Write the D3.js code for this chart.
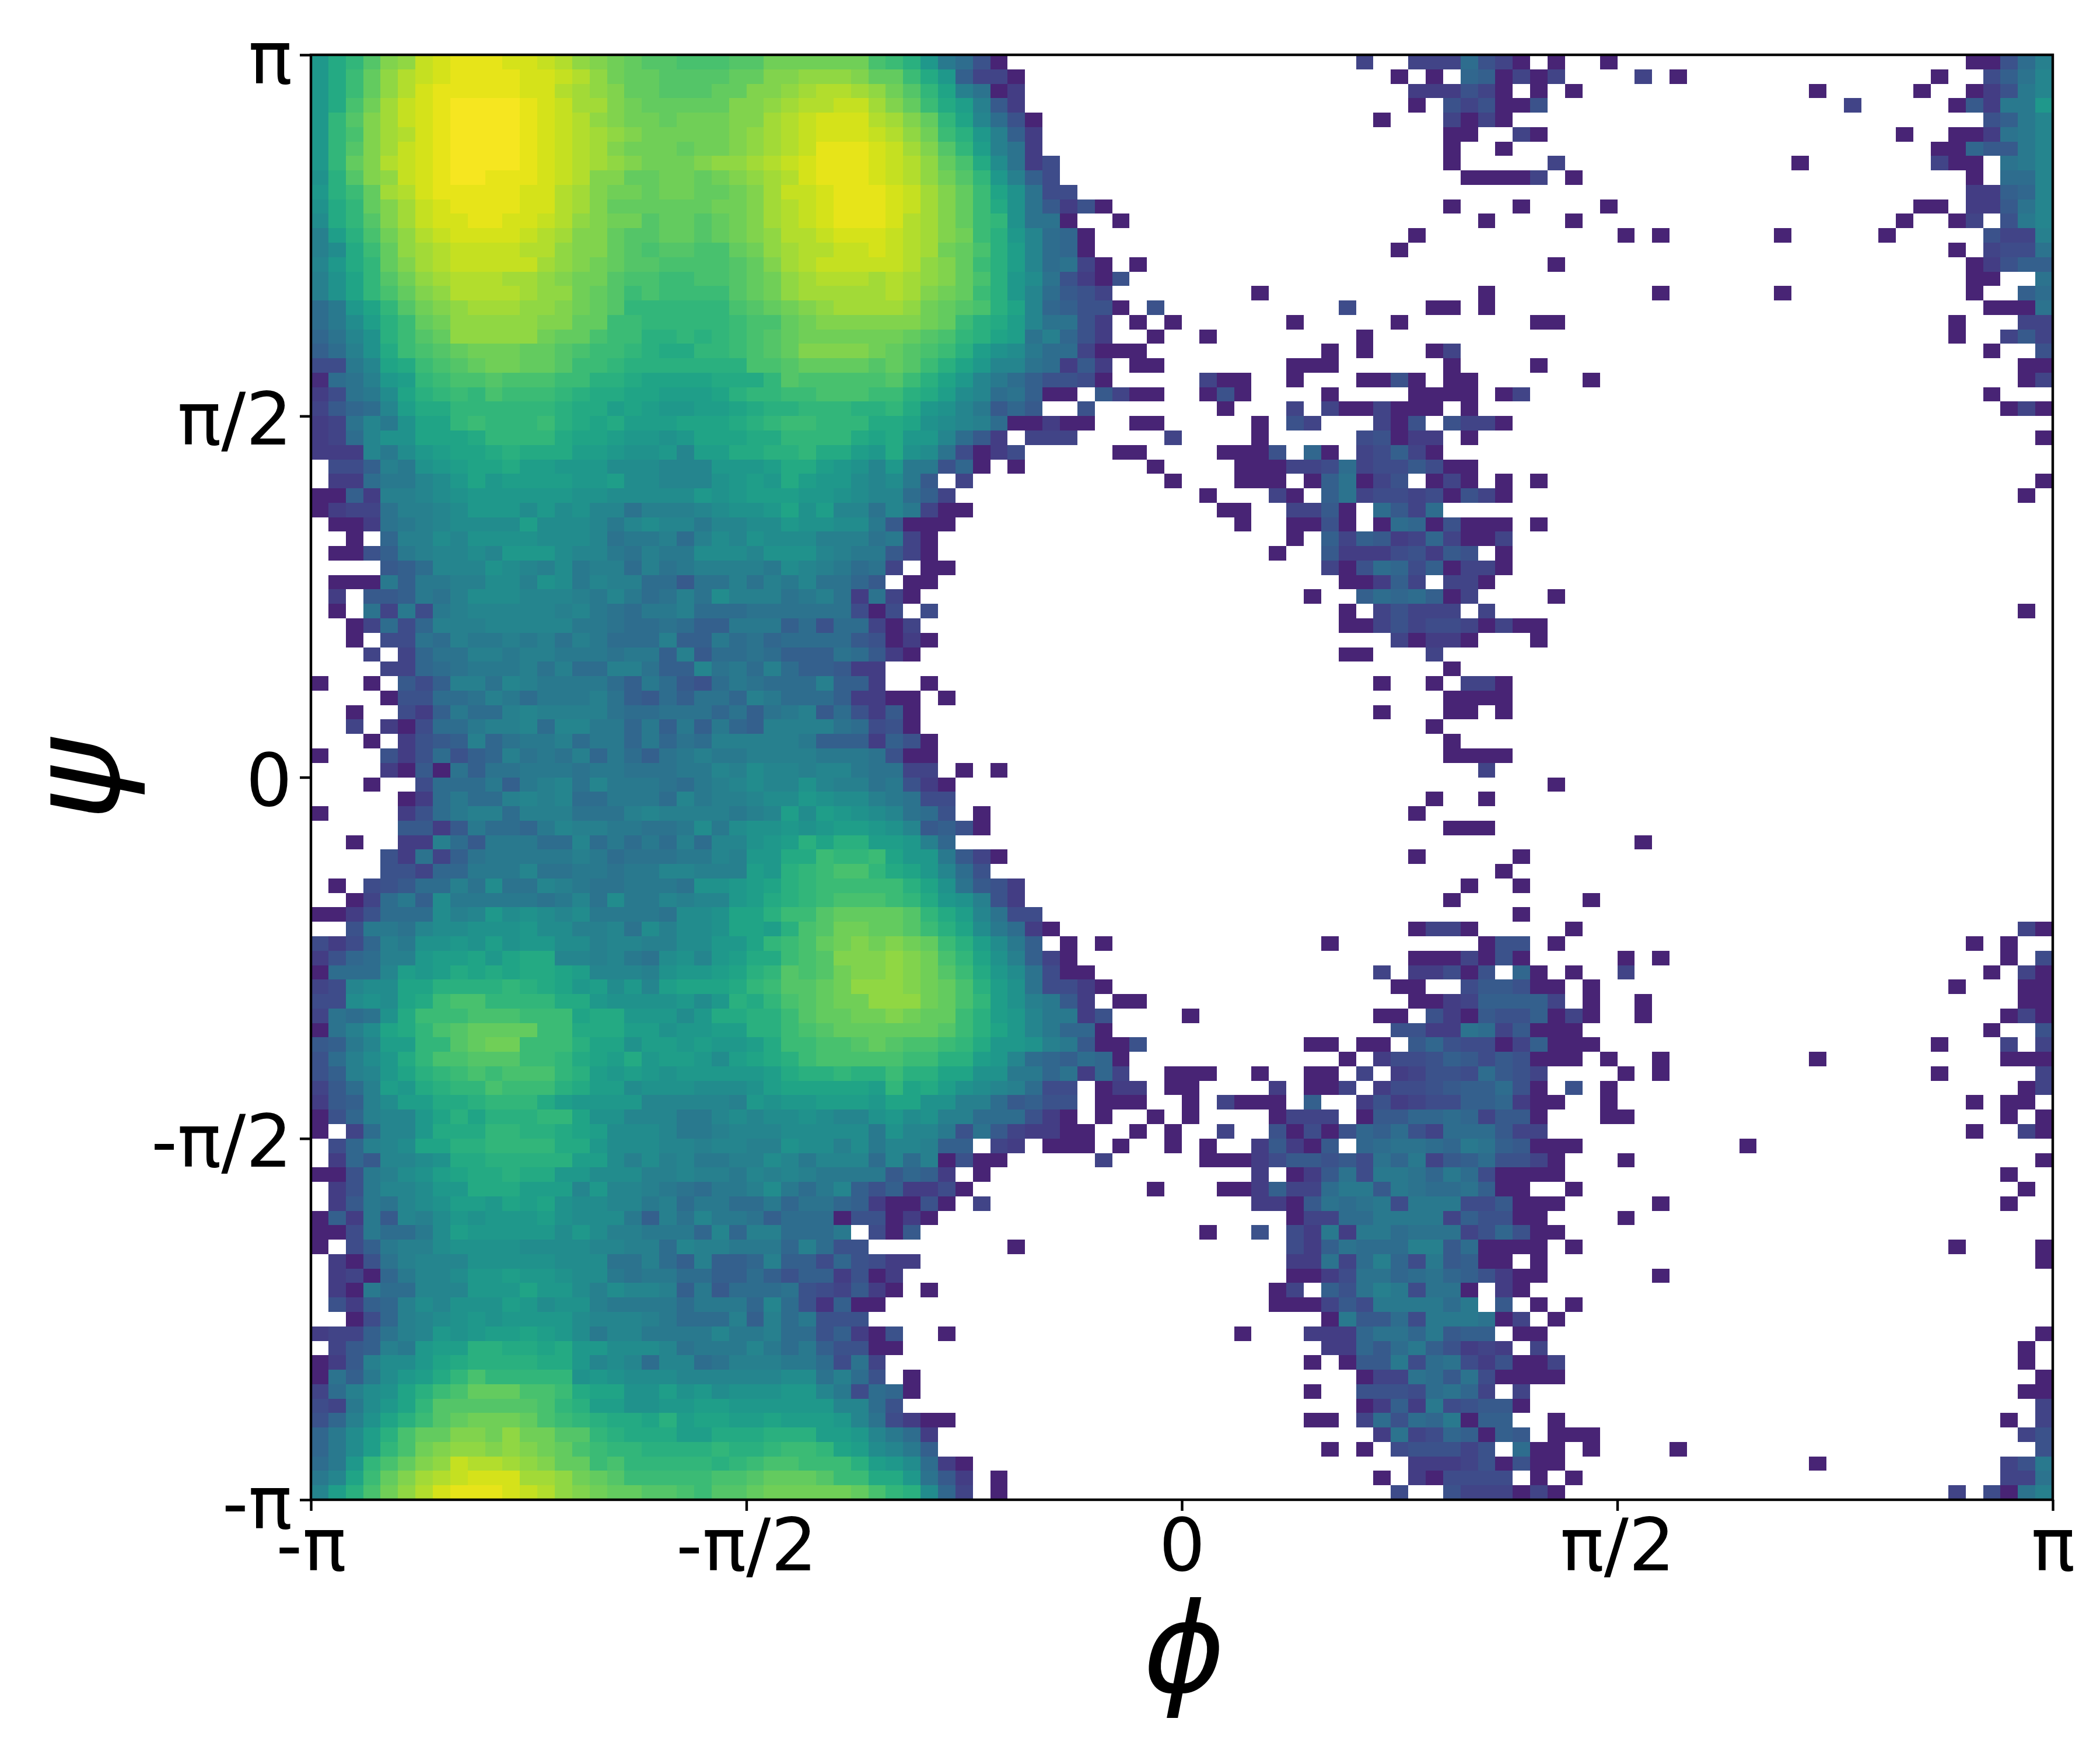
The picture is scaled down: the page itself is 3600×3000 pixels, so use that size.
<!DOCTYPE html>
<html>
<head>
<meta charset="utf-8">
<script src="https://cdnjs.cloudflare.com/ajax/libs/d3/7.8.5/d3.min.js"></script>
<style>
    body { margin: 0; background: #fff; }
    text { font-family: "DejaVu Sans", sans-serif; }
</style>
</head>
<body>
<svg id="svg-element" width="3600" height="3000"></svg>
<script>
// histogram levels, one string per psi row (top row = +pi), one char per phi bin
// '.' = empty bin, otherwise base 36 level. <n> = n empty bins
const phiBinsWest = [
"hkmpstwxyyyxxwvtsrqppooopprrrrrro",
"hknqtvwxyyyyxxwvtrqqppppqqsstttsq",
"hknqtvxyyyyyxxvutsqqpppqqsstuvvut",
"hkoruwxyzzzzyxwuusrqqqqqsstuvvwwu",
"hmpsuwxyzzzzyxwvtsrrqrrrssuvwxxxv",
"hmosuvxyzzzzyxwvutsrrrrrstuvwxxxw",
"hmpsuwxyzzzzyxwvusrrrqrrstuvwyyyx",
"hmqsvwxyzzzzyxwvutsrrrsttuvwxyyyx",
"glpstwxyzzyyyxwvssqqrrqrstuvxyyyx",
"hlnquvxyyyyyxxvusrrqrrqqrsuwwxyyy",
"gkmqsuwxyyyyxxvusqqqqqqrrsuvwxyyy",
"fkmpsuwxxyyxxwvtsrrpqqpqrsuvwxyyy",
"dilortvwxxxxwvussqppqqpqrstvvwxxx",
"dfknqtuvwwwwvvtssqpoppooqrtuvvwwx",
"ehkmqsuvwwwwwutsrqppoooopqsuvwwww",
"dgjmprtuvvvuutsrrpoonnoopqrtuvvvu",
"dgjmoqstvvvvuttrqpnonnnnpqrtuuuuu",
"achjmprstuuuttsrqpmmmmmmopqrstuuu",
"acfilnqrtttttssqqnnmmmmmnooqrssss",
"9beglnpqtttttrqqonnllmlmnopqrrrrr",
"8adgknopqrrrqqponnmlkkmmnopqssssr",
"55cejknopqrrqqpnnmllllllloopqqqqp",
"1abdhimnoopooonnllkjjjjkkkmpooooo",
"35bcfjlmnmonnnmlkkjjiiijlmmnnooon",
"479aeikkmmmmmmlkkijihhiijkllmmmll",
"34becgjjmnmmmnlkjkiiijjjklmnnmmmk",
"34aeggjjjkmmmmkjjihhghjjjkkmmmmkj",
"333ecfhijjklkkkiihggheiikkllmkkih",
".558dcghijjkiihhhfffeeehhhikkihge",
".33accefhjhiiiihhiffeeeghihkihhfe",
"0083ddefghhhhhhggfffffhghiiihhgfe",
"0344bddefhhhfhfgeebdddefgghjgieeb",
".003bcdeffffifffecefeeceeffhggffc",
"..0.9ddfeggggfffebccdadfegfffdddb",
".0068cdeefehhhfeecbdccfffegggedcc",
"....78aeeegfedfcddadbcddddcfedcab",
".000c8ccddffdgfceddaa7bbdbdcebb97",
".3.778cbdfffeeedcecabdbfdddbcdb3b",
".0.b4c5cdeeeeedecbaccdaaabbbbbb50",
"..04a59dddeeeeeccbaaba88ccc8a6aa4",
"..0.55badccdcdbdcaaad88cab9aaaa76",
"...4.49bbddcddcccbcc8d7aaba888ba7",
"....449abcccdbdaaddb88ebcada88733",
"0..0.758ddbedcccca8ca76acbaaad883",
"....066aabdcacccdb87a8bb9dcaaa833",
"..0..538caadeddddbaabbb9b8bcd7a63",
"..4.305aacddeaeecc9c8c8c98ddddba5",
"...0.3678d9bccdacc9c9badddddc8883",
"0...636a689dbcbd9ca8bcdccddddcccb",
"....3070b8bbcccbccbbbccedfeedeecb",
"...0..5aaac8cdebecccbacdefeegeddb",
".....03acaadedeaacccaecddeffhgffd",
"0....36acddadddbbbdeddddcdeifihgf",
".....7737caa9ceddccbbcfcfgghghiih",
"..0..33da7cccaaeacacadaeeghiljlli",
"....63b48bcccccdcabbbccedhhkknmmn",
"....66499cccebbccbcceedddihlmnoom",
".0.567aadbfbbedcbbcccbgghijlmnnnn",
"..04ac8fcccccbcebfccedeehiklmnooo",
"0036aaafdehfgfefccccbffgjjlnnpqqq",
"..6ccbeffggghffddebfdffgjjiloprrq",
"5359dcgghgighhffdeeddffhhjmnoqrsr",
"369addhiijhjkkeedecbfgehikknopsss",
"0aaaeihikjkjkkjieeedghhijlmpoprss",
"45effjjllllmlkjhifheijjjkmnppqrtt",
"55fgfjknoommmmkkhgggghfhlkmopqrrt",
"4babgknnnooonnnjkkhhhfhkkllnpqqrr",
"0bdfjkmopqqqqnnkkkiighhiillnopqqq",
"78ceiimmpqrrnnnljjgiihihhiknnoopq",
"6adfhkmoopppnnmkjikhiihfijklnoooo",
"68dehjlmnonooomlihihghhhhhikllmll",
"47adihklmmonnnlkiifgggfffgijjjjji",
"378dfiikklmmmkihhhheeeeedhghhiiih",
"069deehjljlllmmjggeeeccefeffgfeeg",
"0.4aeehkkkmmllkjifffeccdeeefffffc",
".59defjjllmmmmkkhfffeedeeddgffdfc",
".397eefgkkllllliifdfdeccddfeceeea",
"006cdfgijkklkkhhfffddeddcededcccc",
".36ceefhhkkkiiieheedcbaccdfcace86",
".37cbefgiihjijgffeecdaccaac9bb983",
"083c7edfhghhhigfffc8dbeccb8aaa066",
"005caacfihhhhhfhfddccc9e9ddaaac.5",
"0.58cddfggggffffeeddaeddccc9da66.",
".306bdeeegggggfffbbda8d889d885965",
".3409ceefhhihhgffcbccaa88a8688360",
".30caaeeehhhjhhfdfeed8c7aaab65473",
".6389dfegggihfggdccccaccc9ea62800",
"..059defghghhhhfeeedcaaad8dac666.",
"3448bdehghiijihfceecccceccdaa6830",
".478dchiillkkjkhhfffebcccecac8660",
"037dffhjkllllkkhefeaeeabdddcca5b4",
"0b8cfhikmommmmmghgfffeeeeeeffbda6",
"4adfgjlnoqqqoonkjjggighfggghhec5a",
"54cfhjmppppppomliigghhiihhhhhheea",
"69dgjlnpqrrrqonmlkkjlijjiijiiiheb",
"9cfiloqqssrtrrppmlkkkiikkkllliihe",
"9cfimorsttstsrqonmmllllmllmnnmjif",
"achmoqstwvvutsqqnommmmmlmnoonnnli",
"cejnqsuvwxxxuutrqpnnnnnoopqqqpnnk",
"eilortvxyyyxwvtsrqqpponppqrrrrrqo"
];

const phiBinsMid = [
"nlhca60<20>4..444","qnkh8440<21>0.0.","rpmjdb03<22>333","sqnkid73<22>0.6","usqmjea60<19>0...4",
"vtrnlhd83<23>0","wuspmidb3<23>0","wvtqokfb35<22>0","wvtrpmhd85<23>","xwusqnjgb55<22>",
"xwusqnkgb7360<19>0","xvusqnmgbb0..0<19>","wvusrnlhea90<18>0..","wvurqoliea90<17>0...","wvtsqnlieab40.0<18>",
"vutsqolhfb6306<19>","vusrqnlhea764<8>0<11>","utrqpolje98660.6<10>5<4>00","ssrqnlkiebb63.0.0<6>0<5>0...","rqpomljibd963..0..0<8>0<5>",
"qponligfcaa4000<10>0.0...04","qpnljheeba373.00<7>000<6>0","pnljheca86650<5>400..0...0060.0","nlkifeab800.7400..060....0....000","mkhgec797..6<7>0...4.4004000.",
"kjgfeda00300..00<5>0.64...406.6","khhea73.444<5>4....0<5>56033.","kgfb5035<5>00....0006.90.45840.","hcc690.0<7>0....000445a455750","fc7.4<11>0...000.08b046.04",
"ea84<14>0...40.8b455450","ec400<14>00..4470.a74a.","7000<16>0..0060.0a906","c40<20>0.84873494","740<19>0..73335637",
"4.00<21>406a9580",".00<23>00384.4","40<22>0..8a9a80","5.5<23>0.46444","04<24>0046455",
"030<26>4033","30<24>00...4.","<32>0","..0<25>0..0.","00.0<28>0",
"70<26>0...0","60<29>0.","860<29>0","600<29>0","b44.0.0<26>",
"c630<29>","cb55<27>0.","eba6.0<24>0..","ge7860<26>0","ihd9<29>",
"jhhc740<23>0..","kjhea6<27>","nljgb763<25>","nmkhgd63<24>0","qpmkieb55<24>",
"qpnljfca30<20>044","srqnlifc8.0.0<12>0<7>","tsromjgd840<19>000","tsrpnkhfb500<16>4.335","tsrqoligb5530<16>00..",
"ttrqomigdc73.00<15>003","srqqnlihecc36....0<10>00.63","qqqpnljhec990<16>6633","poonmkhhgdc7006<9>00.00.796","onnllihea98a90<12>0.35568",
"nlljjggcc9b394..000..0..00.4.3466","mjkigfeda55.033.00....3.004.35567","jjggdda7866.000..0.4000.8..363455","hfgddaaa630.0..0.0....0444.07799a","geec6b743300..0.0..4..6050698a64a",
"eed88.43.000.0..0.0..37307.9abba9","ead0600<5>4<5>0003577675b9c47","7983.0<15>3.037b5ccb9c","83350<10>0...003844acc7cbaa","0060.4<15>3307babc5ccc",
"030<20>044aacccc4","07<16>0..6.53c3ccabbb","<7>0<15>538baaadd7","33<21>33b4ad95c7","3<22>0035bb9ab9",
"0.0<19>04.86bdc5bb","<22>000475cccca","<25>0c77a5cc","6..0<16>0...3339bb9c7","0<24>3397ac86",
"<24>0.077c5ab",".0<25>044ba7","90<22>0..6665ab","6<26>0383c5","5300<20>00.4a6a9c",
"ca3<25>3b459","ec8<22>0.0.5666","hfa30<25>333","khb73.0<21>0.305","mlf94.0<22>5..6"
];

const phiBinsEast = [
"a640.0..0<20>006ad","980404....4.0<14>0..58be","640.0.0<13>0<5>0..036ce","46006<17>4<5>073cch","040<27>68ce",
"0..40<20>0..003bce","..0<24>00977ce","<5>4<13>0<7>400.bce","00004.0<22>0.aae","<29>3389e",
"...0....0<17>00.337be",".0....0<18>0..04.6ce","<9>0.0<6>0<5>0<5>644d","<28>0.455b","<5>0<23>03688",
"<29>00..b",".0<9>0<6>0<10>0..8a",".0<28>000b","....00<22>0...44","<28>0..474",
"<30>0..6","....0<27>00","0<6>0<24>04","0.04<26>0...","0<30>040",
"440<31>","0<32>0","<34>","0<33>","0.0.0<28>0",
"640<29>0.","<34>","000.0<29>","004<31>","6.0<31>",
"440<31>","40<32>","4....0<28>",".4<30>0.","40400<29>",
"0...0<29>","<34>","<34>","440<31>","000<31>",
"0.0<31>","<34>","<34>","000<31>",".4<32>",
"<5>0<28>",".0<32>","<34>","00<32>","<10>0<23>",
"...0<30>","..0<31>","0..0<30>","<7>0<26>","...0<30>",
"0<5>0<25>40",".066.0<23>0.0..","4060<5>0.0<19>0.5","06.90.0..4<20>0.40","577600.0<20>0...00",
"488884.0..0<21>00","07668040..0<20>040","ba47000<23>0..6","55048000<19>0...4.4","7576000.0..0<8>0<10>000",
"5a764....0.0<15>0<5>4","88a60.6.0<23>04","889300..0<20>0.00.","94770...00<21>0.0","aa744<24>0..40",
"cb87000<9>0<17>","8a6640...0<23>0","a50000<25>0..","b800..0<25>0.","557000<5>0<19>0..",
"86600....0<24>","469600<28>","a0000.0<21>0....0","800.0<28>0","86300<6>0<22>",
"0.30<30>","c.7.0.0<27>","cb04.0<28>","88.00<28>0","343.4<27>0.",
"536004<26>0.","b50000<27>0","94.4<28>00","6770<29>4","088..0<25>0.4",
"8087.000<24>46","46.a00.0....0<20>6","460600<14>0<10>46c","555.0.0<24>44b","444040<22>4.50bd"
];

const tickValues = [-Math.PI, -Math.PI / 2, 0, Math.PI / 2, Math.PI];
const tickLabels = ["-π", "-π/2", "0", "π/2", "π"];
const xTitle = "ϕ";
const yTitle = "ψ";

const margin = { left: 533, right: 3519, top: 94, bottom: 2571 };
const binCount = 100;

const x = d3.scaleLinear().domain([-Math.PI, Math.PI]).range([margin.left, margin.right]);
const y = d3.scaleLinear().domain([-Math.PI, Math.PI]).range([margin.bottom, margin.top]);
const color = d3.scaleSequential(d3.interpolateViridis).domain([-4, 35.5]);
const binEdge = i => -Math.PI + i * 2 * Math.PI / binCount;

function expand(str, size) {
    const full = str.replace(/<(\d+)>/g, (m, n) => ".".repeat(+n));
    return full.padEnd(size, ".").slice(0, size);
}

const cells = [];
phiBinsWest.forEach((row, r) => {
    const line = expand(row, 33) + expand(phiBinsMid[r], 33) + expand(phiBinsEast[r], 34);
    for (let c = 0; c < binCount; c++) {
        if (line[c] === ".") continue;
        cells.push({ col: c, row: r, level: parseInt(line[c], 36) });
    }
});

const svg = d3.select("#svg-element");

svg.append("g").selectAll("rect")
    .data(cells)
    .enter()
    .append("rect")
    .attr("x", d => x(binEdge(d.col)))
    .attr("y", d => y(binEdge(binCount - d.row)))
    .attr("width", d => x(binEdge(d.col + 1)) - x(binEdge(d.col)))
    .attr("height", d => y(binEdge(binCount - d.row - 1)) - y(binEdge(binCount - d.row)))
    .attr("fill", d => color(d.level))
    .attr("shape-rendering", "crispEdges");

const labelOf = v => tickLabels[tickValues.indexOf(v)];

const xAxis = svg.append("g")
    .attr("transform", "translate(0," + margin.bottom + ")")
    .call(d3.axisBottom(x).tickValues(tickValues).tickFormat(labelOf).tickSize(19).tickSizeOuter(0).tickPadding(13));

const yAxis = svg.append("g")
    .attr("transform", "translate(" + margin.left + ",0)")
    .call(d3.axisLeft(y).tickValues(tickValues).tickFormat(labelOf).tickSize(19).tickSizeOuter(0).tickPadding(13));

[xAxis, yAxis].forEach(axis => {
    axis.select(".domain").remove();
    axis.selectAll("line").attr("stroke", "#000").attr("stroke-width", 4.4);
    axis.selectAll("text")
        .attr("fill", "#000")
        .style("font-family", '"DejaVu Sans"')
        .style("font-size", "125px");
});
yAxis.selectAll("text").attr("dy", "0.385em");

// spines
svg.append("rect")
    .attr("x", margin.left)
    .attr("y", margin.top)
    .attr("width", margin.right - margin.left)
    .attr("height", margin.bottom - margin.top)
    .attr("fill", "none")
    .attr("stroke", "#000")
    .attr("stroke-width", 4.4);

svg.append("text")
    .attr("x", x(0) + 4)
    .attr("y", 2900)
    .attr("text-anchor", "middle")
    .style("font-size", "213px")
    .style("font-style", "italic")
    .text(xTitle);

svg.append("text")
    .attr("transform", "translate(203," + (y(0) + 4) + ") rotate(-90)")
    .attr("text-anchor", "middle")
    .style("font-size", "213px")
    .style("font-style", "italic")
    .text(yTitle);
</script>
</body>
</html>
